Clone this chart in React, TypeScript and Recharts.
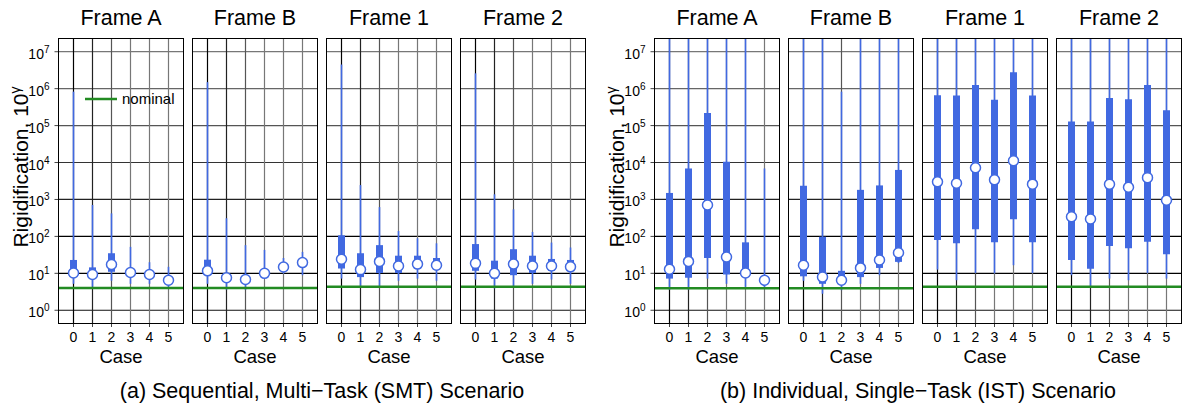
import React from "react";
import { ComposedChart, XAxis, YAxis, Bar, Scatter, ReferenceLine, Legend } from "recharts";

// cases on the x axis and decade ticks on the log y axis
const CASES = [0, 1, 2, 3, 4, 5];
const Y_TICKS = [1, 10, 100, 1e3, 1e4, 1e5, 1e6, 1e7];
const FRAMES = ["Frame A", "Frame B", "Frame 1", "Frame 2"];

// per case: [low whisker, q1, median, q3, high whisker]
const SMT_A = [
  [5.2, 8.9, 10.2, 23, 8.3e5],
  [4.3, 8.3, 9.3, 14.5, 710],
  [6.3, 11, 17.4, 35, 420],
  [5.2, 8.9, 10.5, 12, 52],
  [5.2, 8.3, 9.3, 10.7, 20],
  [4.3, 5.8, 6.5, 7.4, 15],
];
const SMT_B = [
  [5.2, 10, 11.7, 23.4, 1.5e6],
  [3.6, 6.8, 7.6, 8.5, 310],
  [3.6, 6.0, 6.8, 7.9, 58],
  [7.2, 8.9, 10, 11.2, 43],
  [10, 13, 14.8, 16.6, 26],
  [8.9, 17.4, 19.5, 22, 38],
];
const SMT_1 = [
  [7.2, 13.5, 24, 107, 4.5e6],
  [4.3, 7.9, 12.6, 35, 2450],
  [4.5, 10.2, 21, 58, 620],
  [6.3, 10.2, 15.8, 30, 140],
  [7.2, 13.5, 17.8, 30, 89],
  [6.3, 12.6, 16.6, 26, 65],
];
const SMT_2 = [
  [6.8, 11.7, 18.6, 62, 2.6e6],
  [3.9, 7.2, 10, 22, 1380],
  [4.3, 8.9, 17.8, 45, 540],
  [5.2, 10.2, 15.8, 30, 132],
  [6.8, 11.7, 15.8, 24.5, 68],
  [5.2, 11.7, 15, 23, 50],
];
const IST_A = [
  [3.6, 7.2, 12.9, 1500, 1e8],
  [3.6, 7.6, 21, 6900, 1e8],
  [7.2, 26, 710, 2.2e5, 1e8],
  [5.2, 9.3, 27.5, 1.05e4, 1e8],
  [4.3, 7.9, 10.2, 69, 1e8],
  [4.1, 5.8, 6.5, 7.2, 6900],
];
const IST_B = [
  [6.3, 8.3, 16.6, 2350, 1e8],
  [2.8, 5.2, 7.9, 98, 1e8],
  [3.5, 5.2, 6.5, 11.7, 8.3e5],
  [5.2, 7.9, 14, 1820, 1e8],
  [8.9, 14, 23, 2400, 1e8],
  [19, 20.4, 36, 6300, 1e8],
];
const IST_1 = [
  [12.6, 80, 3000, 6.6e5, 1e8],
  [6.5, 65, 2750, 6.5e5, 1e8],
  [10.2, 155, 7200, 1.26e6, 1e8],
  [10, 69, 3400, 5e5, 1e8],
  [16.6, 290, 1.12e4, 2.8e6, 1e8],
  [10.2, 69, 2600, 6.5e5, 1e8],
];
const IST_2 = [
  [8.9, 23, 340, 1.3e5, 1e8],
  [4.3, 13.2, 295, 1.3e5, 1e8],
  [7.2, 55, 2570, 5.6e5, 1e8],
  [6.5, 48, 2140, 5.2e5, 1e8],
  [10.2, 72, 3900, 1.26e6, 1e8],
  [7.2, 33, 950, 2.6e5, 1e8],
];
const SMT_NOMINAL = [4.0, 4.0, 4.3, 4.3];
const IST_NOMINAL = [3.95, 3.95, 4.3, 4.3];

const BLUE = "#4169e1";
const GREEN = "#228b22";
const H_GRID = ["#111", "#000", "#000", "#222", "#333", "#555", "#666", "#777"];
const V_GRID = ["#000", "#222", "#555", "#777", "#777", "#777"];

const Y_MIN = 0.452;
const Y_MAX = 2.21e7;
const PLOT_W = 124;
const PLOT_H = 284;
const PLOT_TOP = 39;
const AXIS_W = 45;
const TOP_PAD = 6;
const X_H = 46;
const LEFT_X = [59, 193, 327, 461];
const RIGHT_X = [655, 789, 923, 1057];
const FONT = '"Liberation Sans", Arial, Helvetica, sans-serif';

function PowTick(props: any) {
  const { x, y, payload } = props;
  const exp = Math.round(Math.log10(payload.value));
  return (
    <text x={x} y={y} dy={7} textAnchor="end" fontSize={14} fill="#000">
      10
      <tspan dy={-6} fontSize={10}>
        {exp}
      </tspan>
    </text>
  );
}

const Whisker = (p: any) => (
  <rect x={p.x + p.width / 2 - 0.8} y={p.y} width={1.6} height={p.height} fill={BLUE} />
);

const Median = (p: any) => (
  <circle cx={p.cx} cy={p.cy} r={5} fill="#fff" stroke={BLUE} strokeWidth={1.5} />
);

const NominalLegend = () => (
  <div style={{ display: "flex", alignItems: "center", fontFamily: FONT }}>
    <svg width={32} height={10}>
      <line x1={0} y1={5} x2={32} y2={5} stroke={GREEN} strokeWidth={2.5} />
    </svg>
    <span style={{ marginLeft: 5, fontSize: 15, color: "#000" }}>nominal</span>
  </div>
);

function Panel({ left, stats, nominal, showTicks, legend }: any) {
  const rows = CASES.map((c, i) => ({
    case: c,
    lo: stats[i][0],
    q1: stats[i][1],
    med: stats[i][2],
    q3: stats[i][3],
    hi: stats[i][4],
  }));
  return (
    <div style={{ position: "absolute", left: left - AXIS_W, top: PLOT_TOP - TOP_PAD }}>
      <ComposedChart
        width={AXIS_W + PLOT_W + 4}
        height={TOP_PAD + PLOT_H + X_H}
        data={rows}
        margin={{ top: TOP_PAD, right: 4, bottom: 0, left: 0 }}
      >
        <XAxis
          xAxisId="w"
          dataKey="case"
          type="category"
          padding={{ left: 5, right: 5 }}
          height={X_H}
          axisLine={false}
          tickLine={{ stroke: "#444" }}
          tickSize={4}
          tickMargin={5}
          tick={{ fill: "#000", fontSize: 14 }}
          interval={0}
          label={{ value: "Case", position: "insideBottom", offset: 6, fill: "#000", fontSize: 18.5 }}
        />
        <XAxis xAxisId="b" dataKey="case" type="category" padding={{ left: 5, right: 5 }} height={0} hide />
        <YAxis
          type="number"
          scale="log"
          domain={[Y_MIN, Y_MAX]}
          allowDataOverflow
          ticks={Y_TICKS}
          interval={0}
          width={AXIS_W}
          axisLine={false}
          tickLine={{ stroke: "#444" }}
          tickSize={4.5}
          tickMargin={5}
          tick={showTicks ? <PowTick /> : false}
        />
        {Y_TICKS.map((t, i) => (
          <ReferenceLine key={"h" + t} xAxisId="w" y={t} stroke={H_GRID[i]} strokeWidth={1.2} zIndex={-100} />
        ))}
        {CASES.map((c, i) => (
          <ReferenceLine key={"v" + c} xAxisId="w" x={c} stroke={V_GRID[i]} strokeWidth={1.2} zIndex={-100} />
        ))}
        <Bar xAxisId="w" dataKey={(d: any) => [d.lo, d.hi]} barSize={1} shape={Whisker} isAnimationActive={false} />
        <Bar xAxisId="b" dataKey={(d: any) => [d.q1, d.q3]} barSize={7} fill={BLUE} isAnimationActive={false} />
        <ReferenceLine xAxisId="w" y={nominal} stroke={GREEN} strokeWidth={2.5} zIndex={350} />
        <Scatter xAxisId="b" dataKey="med" shape={Median} isAnimationActive={false} />
        {legend && (
          <Legend
            layout="vertical"
            verticalAlign="middle"
            align="center"
            content={NominalLegend}
            wrapperStyle={{ position: "absolute", left: 71, top: 57, width: "auto", height: "auto" }}
          />
        )}
      </ComposedChart>
    </div>
  );
}

function Frame({ left }: { left: number }) {
  return (
    <div
      style={{
        position: "absolute",
        left: left - 0.75,
        top: PLOT_TOP - 0.75,
        width: PLOT_W + 1.5,
        height: PLOT_H + 1.5,
        border: "1.5px solid #000",
        boxSizing: "border-box",
        pointerEvents: "none",
      }}
    />
  );
}

export default function App() {
  const smt = [SMT_A, SMT_B, SMT_1, SMT_2];
  const ist = [IST_A, IST_B, IST_1, IST_2];
  return (
    <div
      style={{
        position: "absolute",
        left: 0,
        top: 0,
        width: 1182,
        height: 407,
        background: "#fff",
        fontFamily: FONT,
        overflow: "hidden",
      }}
    >
      {LEFT_X.map((x, i) => (
        <Panel key={"l" + i} left={x} stats={smt[i]} nominal={SMT_NOMINAL[i]} showTicks={i === 0} legend={i === 0} />
      ))}
      {RIGHT_X.map((x, i) => (
        <Panel key={"r" + i} left={x} stats={ist[i]} nominal={IST_NOMINAL[i]} showTicks={i === 0} legend={false} />
      ))}
      {[...LEFT_X, ...RIGHT_X].map((x) => (
        <Frame key={"f" + x} left={x} />
      ))}
      <svg width={1182} height={407} style={{ position: "absolute", left: 0, top: 0, pointerEvents: "none" }}>
        {[...LEFT_X, ...RIGHT_X].map((x, i) => (
          <text key={"t" + i} x={x + PLOT_W / 2} y={25} textAnchor="middle" fontSize={21.5} fill="#000">
            {FRAMES[i % 4]}
          </text>
        ))}
        {[LEFT_X[0], RIGHT_X[0]].map((x) => (
          <text
            key={"y" + x}
            x={0}
            y={0}
            transform={`translate(${x - 31},167) rotate(-90)`}
            textAnchor="middle"
            fontSize={21}
            fill="#000"
          >
            Rigidification, 10
            <tspan dy={-8} fontSize={14}>
              γ
            </tspan>
          </text>
        ))}
        <text x={LEFT_X[0] + (LEFT_X[3] + PLOT_W - LEFT_X[0]) / 2} y={398} textAnchor="middle" fontSize={21.5} fill="#000">
          (a) Sequential, Multi−Task (SMT) Scenario
        </text>
        <text x={RIGHT_X[0] + (RIGHT_X[3] + PLOT_W - RIGHT_X[0]) / 2} y={398} textAnchor="middle" fontSize={21.5} fill="#000">
          (b) Individual, Single−Task (IST) Scenario
        </text>
      </svg>
    </div>
  );
}
